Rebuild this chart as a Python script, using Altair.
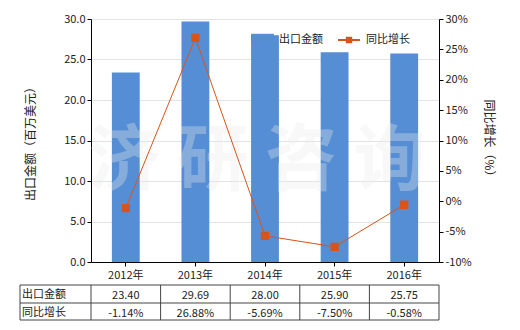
import altair as alt
import pandas as pd

years = ["2012年", "2013年", "2014年", "2015年", "2016年"]
export = [23.40, 29.69, 28.00, 25.90, 25.75]
growth = [-1.14, 26.88, -5.69, -7.50, -0.58]
export_labels = ["23.40", "29.69", "28.00", "25.90", "25.75"]
growth_labels = ["-1.14%", "26.88%", "-5.69%", "-7.50%", "-0.58%"]
row_names = ["出口金额", "同比增长"]
series_names = ["出口金额", "同比增长"]

BLUE = "#558ED5"
ORANGE = "#D9541A"
FONT = "Noto Sans CJK SC"
TXT = "#222222"

df = pd.DataFrame({
    "year": years,
    "export": export,
    "growth": growth,
    "export_label": export_labels,
    "growth_label": growth_labels,
    "bar_series": [series_names[0]] * len(years),
    "line_series": [series_names[1]] * len(years),
})

xscale = alt.Scale(paddingInner=0, paddingOuter=0)
X = alt.X("year:N", sort=years, scale=xscale, title=None,
          axis=alt.Axis(labelAngle=0, domainColor="#000", tickColor="#000",
                        tickSize=4, labelPadding=3, labelFontSize=11,
                        labelColor=TXT, labelFont=FONT, grid=False))

base = alt.Chart(df)

bars = base.mark_bar(width=alt.RelativeBandSize(0.4)).encode(
    x=X,
    y=alt.Y("export:Q", scale=alt.Scale(domain=[0, 30], nice=False),
            title="出口金额（百万美元）",
            axis=alt.Axis(values=[0, 5, 10, 15, 20, 25, 30], format=".1f",
                          grid=True, gridColor="#e3e3e3", domainColor="#000",
                          tickColor="#000", tickSize=4, labelFontSize=11,
                          labelColor=TXT, labelFont=FONT, titleFont=FONT,
                          titleFontSize=12, titleFontWeight="normal",
                          titleColor=TXT, titlePadding=26)),
    fill=alt.Fill("bar_series:N",
                  scale=alt.Scale(domain=[series_names[0]], range=[BLUE]),
                  legend=alt.Legend(title=None, orient="none", legendX=160,
                                    legendY=9, symbolType="M-1,-0.5H1V0.5H-1Z",
                                    symbolSize=520, symbolStrokeWidth=0,
                                    symbolFillColor=BLUE, symbolOpacity=1,
                                    labelFontSize=11, labelFont=FONT,
                                    labelColor=TXT, labelOffset=5)),
)

watermark = alt.Chart(pd.DataFrame({"t": ["济 研 咨 询"]})).mark_text(
    fontSize=72, font=FONT, fontWeight="bold", color="#eaeaea",
    opacity=0.33, align="center", baseline="middle"
).encode(x=alt.value(166), y=alt.value(143), text="t:N")

line = base.mark_line(strokeWidth=1, color="#E0652A",
                      point=alt.OverlayMarkDef(shape="square", size=40,
                                               filled=True, color=ORANGE)).encode(
    x=X,
    y=alt.Y("growth:Q", scale=alt.Scale(domain=[-10, 30], nice=False),
            title="同比增长（%）",
            axis=alt.Axis(orient="right", values=[-10, -5, 0, 5, 10, 15, 20, 25, 30],
                          labelExpr="datum.value + '%'", grid=False,
                          domainColor="#000", tickColor="#000", tickSize=4,
                          labelFontSize=11, labelColor=TXT, labelFont=FONT,
                          titleFont=FONT, titleFontSize=12,
                          titleFontWeight="normal", titleColor=TXT,
                          titlePadding=10)),
    stroke=alt.Stroke("line_series:N",
                      scale=alt.Scale(domain=[series_names[1]], range=[ORANGE]),
                      legend=alt.Legend(title=None, orient="none", legendX=246,
                                        legendY=9,
                                        symbolType="M-1,0H1M-0.2,-0.2H0.2V0.2H-0.2Z",
                                        symbolSize=484, symbolStrokeWidth=2,
                                        symbolFillColor="#F08A40",
                                        labelFontSize=11, labelFont=FONT,
                                        labelColor=TXT, labelOffset=5)),
)

# table
row1 = base.mark_text(fontSize=11, font=FONT, color=TXT).encode(
    x=alt.X("year:N", sort=years), y=alt.value(277), text="export_label:N")
row2 = base.mark_text(fontSize=11, font=FONT, color=TXT).encode(
    x=alt.X("year:N", sort=years), y=alt.value(295), text="growth_label:N")

lab1 = alt.Chart(pd.DataFrame({"t": [row_names[0]]})).mark_text(
    fontSize=11, font=FONT, color=TXT, align="left").encode(
    x=alt.value(-69), y=alt.value(276), text="t:N")
lab2 = alt.Chart(pd.DataFrame({"t": [row_names[1]]})).mark_text(
    fontSize=11, font=FONT, color=TXT, align="left").encode(
    x=alt.value(-69), y=alt.value(294), text="t:N")

GRID = "#444444"
hlines = []
for yy in [266, 284, 301]:
    hlines.append(alt.Chart(pd.DataFrame({"a": [0]})).mark_rule(
        color=GRID, strokeWidth=1).encode(
        x=alt.value(-71), x2=alt.value(348), y=alt.value(yy)))
vlines_band = base.mark_rule(color=GRID, strokeWidth=1).encode(
    x=alt.X("year:N", sort=years, bandPosition=0),
    y=alt.value(266), y2=alt.value(301))
vedges = []
for xx in [-71, 348]:
    vedges.append(alt.Chart(pd.DataFrame({"a": [0]})).mark_rule(
        color=GRID, strokeWidth=1).encode(
        x=alt.value(xx), y=alt.value(266), y2=alt.value(301)))

chart = alt.layer(
    bars, watermark, line, row1, row2, lab1, lab2, vlines_band,
    *hlines, *vedges
).resolve_scale(
    y="independent", fill="independent", stroke="independent"
).resolve_legend(fill="independent", stroke="independent").properties(
    width=348, height=243,
    autosize=alt.AutoSizeParams(type="none"),
    padding={"left": 91, "top": 19, "right": 81, "bottom": 68},
).configure_view(stroke=None).configure(background="white")

chart.save("out.html", embed_options={"renderer": "svg", "actions": False})
